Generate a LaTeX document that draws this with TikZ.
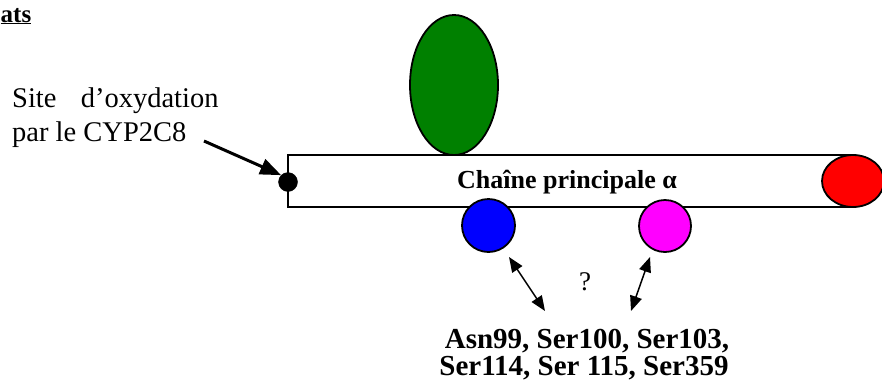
\documentclass[tikz,border=0pt]{standalone}
\usepackage{fontspec}
\setmainfont{Liberation Serif}
\usetikzlibrary{arrows.meta,shapes.geometric}
\tikzset{
  outl/.style={draw=black, line width=1.8pt},
  blob/.style={outl, ellipse, inner sep=0pt},
  ball/.style={outl, circle, inner sep=0pt},
  twohead/.style={{Triangle[length=15pt,width=12pt]}-{Triangle[length=15pt,width=12pt]}, line width=1.5pt},
  lbl/.style={inner sep=0pt},
  sitefont/.style={font=\fontsize{28.5}{34}\selectfont},
  resfont/.style={font=\fontsize{29}{29}\selectfont\bfseries}
}
\begin{document}
\begin{tikzpicture}[x=1pt,y=-1pt]
\useasboundingbox (0,0) rectangle (882,381);
\clip (0,0) rectangle (882,381);
% main chain
\node[outl, fill=white, rectangle, minimum width=562pt, minimum height=52pt, inner sep=0pt] (chain) at (569,181) {};
\node[lbl, anchor=base, font=\fontsize{26}{30}\selectfont\bfseries] (chainlbl) at (567,188) {Chaîne principale α};
% green ellipse
\node[blob, fill={rgb,255:red,0;green,128;blue,0}, minimum width=88pt, minimum height=140pt] (green) at (454,85) {};
% red ellipse
\node[blob, fill={rgb,255:red,255;green,0;blue,0}, minimum width=62pt, minimum height=52pt] (red) at (853,181) {};
% blue and magenta circles
\node[ball, fill={rgb,255:red,0;green,0;blue,255}, minimum size=53pt] (blue) at (488.5,225.5) {};
\node[ball, fill={rgb,255:red,255;green,0;blue,255}, minimum size=52pt] (mag) at (665,226) {};
% oxidation dot
\node[circle, fill=black, draw=black, minimum size=19pt, inner sep=0pt] (dot) at (288,182) {};
% site label
\node[lbl, anchor=base west, sitefont] (site) at (12,107) {Site\hspace{0.85em}d’oxydation};
\node[lbl, anchor=base west, sitefont] (site2) at (12,141) {par le CYP2C8};
\coordinate (sitestart) at (204,141);
\draw[-{Triangle[length=21pt,width=16pt]}, line width=3pt] (sitestart) -- (dot.north west);
% residues
\node[lbl, anchor=base, resfont] (res1) at (587,348) {Asn99, Ser100, Ser103,};
\node[lbl, anchor=base, resfont] (res2) at (584,375) {Ser114, Ser 115, Ser359};
\node[lbl, anchor=base, font=\fontsize{27}{27}\selectfont] (q) at (585,290) {?};
\coordinate (b1) at (509,257);
\coordinate (b2) at (545,311);
\coordinate (m1) at (650,257);
\coordinate (m2) at (631,311);
\draw[twohead] (b1) -- (b2);
\draw[twohead] (m1) -- (m2);
% heading
\node[lbl, anchor=base west, font=\fontsize{25}{30}\selectfont\bfseries] (head) at (0.5,22) {\underline{ats}};
\end{tikzpicture}
\end{document}
